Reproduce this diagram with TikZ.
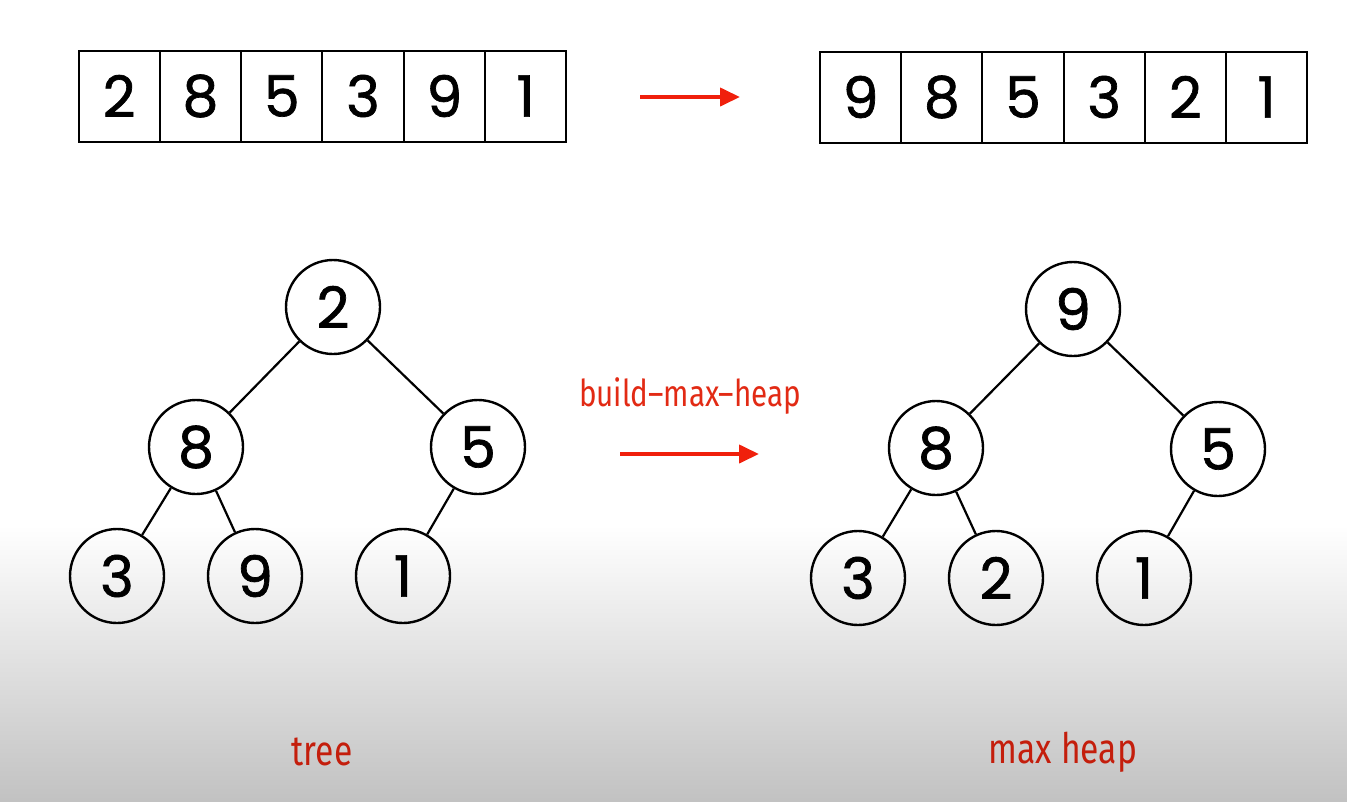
\documentclass[tikz,border=0pt]{standalone}
\usepackage{fontspec}
\usetikzlibrary{arrows.meta}
\newfontfamily\digitfont[FakeBold=1.2]{Poppins}
\newfontfamily\lblfont[FakeStretch=0.8]{Fira Sans}
\definecolor{arrowred}{RGB}{240,32,12}
\definecolor{lblred}{RGB}{226,42,20}
\definecolor{darkred}{RGB}{196,30,12}
\begin{document}
\begin{tikzpicture}[x=1pt,y=-1pt,
  cell/.style={draw,line width=2pt,minimum width=81.3pt,minimum height=91pt,inner sep=0pt,outer sep=0pt,
    font=\digitfont\fontsize{57}{57}\selectfont},
  vert/.style={draw,circle,line width=2.4pt,minimum size=94pt,inner sep=0pt,
    font=\digitfont\fontsize{57}{57}\selectfont},
  edge/.style={line width=2.2pt},
  redarrow/.style={arrowred,line width=4pt,-{Triangle[length=20pt,width=18pt]}},
  caption/.style={font=\lblfont\fontsize{42}{42}\selectfont,text=darkred,inner sep=0pt}]
  % page and the grey fade at the bottom
  \fill[white] (0,0) rectangle (1347,801);
  \shade[top color=white,bottom color=black!24] (0,525) rectangle (1347,801);
  \useasboundingbox (0,0) rectangle (1347,801);

  % array before
  \foreach \v [count=\i] in {2,8,5,3,9,1}
    \node[cell] (a\i) at ({78.5+81.3*(\i-0.5)},96) {\v};
  % array after
  \foreach \v [count=\i] in {9,8,5,3,2,1}
    \node[cell] (b\i) at ({820+81.2*(\i-0.5)},97) {\v};

  \coordinate (ta0) at (640,97);
  \coordinate (ta1) at (740,97);
  \draw[redarrow] (ta0) -- (ta1);

  % tree before
  \node[vert] (t2) at (333,307) {2};
  \node[vert] (t8) at (196,447) {8};
  \node[vert] (t5) at (478,447) {5};
  \node[vert] (t3) at (117,576) {3};
  \node[vert] (t9) at (255,576) {9};
  \node[vert] (t1) at (403,576) {1};
  \draw[edge] (t2) -- (t8);
  \draw[edge] (t2) -- (t5);
  \draw[edge] (t8) -- (t3);
  \draw[edge] (t8) -- (t9);
  \draw[edge] (t5) -- (t1);

  % tree after
  \node[vert] (h9) at (1073,309) {9};
  \node[vert] (h8) at (936,448) {8};
  \node[vert] (h5) at (1218,449) {5};
  \node[vert] (h3) at (858,578) {3};
  \node[vert] (h2) at (996,578) {2};
  \node[vert] (h1) at (1144,578) {1};
  \draw[edge] (h9) -- (h8);
  \draw[edge] (h9) -- (h5);
  \draw[edge] (h8) -- (h3);
  \draw[edge] (h8) -- (h2);
  \draw[edge] (h5) -- (h1);

  \coordinate (ma0) at (620,454);
  \coordinate (ma1) at (759,454);
  \draw[redarrow] (ma0) -- (ma1);
  \node[font=\lblfont\fontsize{37}{37}\selectfont,text=lblred,inner sep=0pt] (bmh) at (690,396) {build–max–heap};

  \node[caption] (ctree) at (322,752) {tree};
  \node[caption] (cheap) at (1063,752) {max heap};
\end{tikzpicture}
\end{document}
